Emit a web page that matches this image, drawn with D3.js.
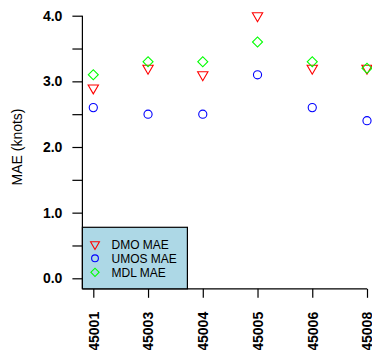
<!DOCTYPE html>
<html>
<head>
<meta charset="utf-8">
<script src="https://cdn.jsdelivr.net/npm/d3@7"></script>
<style>
  body { margin: 0; background: #fff; }
  svg text { font-family: "Liberation Sans", Arial, sans-serif; }
</style>
</head>
<body>
<div id="chart"></div>
<script>
var stations = ["45001", "45003", "45004", "45005", "45006", "45008"];
var dmoMAE  = [2.9, 3.2, 3.1, 4.0, 3.2, 3.2];
var umosMAE = [2.6, 2.5, 2.5, 3.1, 2.6, 2.4];
var mdlMAE  = [3.1, 3.3, 3.3, 3.6, 3.3, 3.2];
var yTicks = [0, 0.5, 1, 1.5, 2, 2.5, 3, 3.5, 4];
var legendLabels = ["DMO MAE", "UMOS MAE", "MDL MAE"];

var width = 372, height = 350;

var svg = d3.select("#chart").append("svg")
    .attr("width", width)
    .attr("height", height);

var x = d3.scalePoint().domain(stations).range([93.3, 367]);
var y = d3.scaleLinear().domain([0, 4]).range([278.3, 15.7]);

var left = 82.4, bottom = 288.8;

// frame lines (left + bottom)
svg.append("line")
    .attr("x1", left).attr("x2", left)
    .attr("y1", y(4)).attr("y2", bottom)
    .style("stroke", "#000").style("stroke-width", 1.2);
svg.append("line")
    .attr("x1", left).attr("x2", x(stations[stations.length - 1]))
    .attr("y1", bottom).attr("y2", bottom)
    .style("stroke", "#000").style("stroke-width", 1.2);

// y axis
var yAxis = svg.append("g")
    .attr("transform", "translate(" + left + ",0)")
    .call(d3.axisLeft(y)
        .tickValues(yTicks)
        .tickSize(10)
        .tickPadding(10)
        .tickFormat(function(d) { return d % 1 === 0 ? d3.format(".1f")(d) : ""; }));
yAxis.select(".domain").remove();
yAxis.selectAll("line").style("stroke", "#000").style("stroke-width", 1.2);
yAxis.selectAll("text")
    .style("font-size", "14px").style("font-weight", "bold")
    .style("font-family", "'Liberation Sans', Arial, sans-serif")
    .attr("fill", "#000");

// x axis
var xAxis = svg.append("g")
    .attr("transform", "translate(0," + bottom + ")")
    .call(d3.axisBottom(x).tickSize(9).tickPadding(0));
xAxis.select(".domain").remove();
xAxis.selectAll("line").style("stroke", "#000").style("stroke-width", 1.2);
xAxis.selectAll("text")
    .style("font-size", "14px").style("font-weight", "bold")
    .style("font-family", "'Liberation Sans', Arial, sans-serif")
    .attr("fill", "#000")
    .attr("text-anchor", "end")
    .attr("transform", "rotate(-90)")
    .attr("x", -23).attr("y", 0).attr("dy", "0.35em");

// y label
svg.append("text")
    .attr("transform", "translate(22," + ((y(4) + y(0)) / 2) + ") rotate(-90)")
    .attr("text-anchor", "middle")
    .style("font-size", "14px")
    .text("MAE (knots)");

var triangle = d3.symbol().type(d3.symbolTriangle).size(46);
var circle = d3.symbol().type(d3.symbolCircle).size(52);
var diamond = d3.symbol().type(d3.symbolSquare).size(50);

// DMO
svg.append("g").selectAll("path")
    .data(dmoMAE)
  .enter().append("path")
    .attr("d", triangle)
    .attr("transform", function(d, i) { return "translate(" + x(stations[i]) + "," + y(d) + ") rotate(180)"; })
    .style("fill", "none").style("stroke", "#ff0000").style("stroke-width", 1.1);

// UMOS
svg.append("g").selectAll("path")
    .data(umosMAE)
  .enter().append("path")
    .attr("d", circle)
    .attr("transform", function(d, i) { return "translate(" + x(stations[i]) + "," + y(d) + ")"; })
    .style("fill", "none").style("stroke", "#0000ff").style("stroke-width", 1.1);

// MDL
svg.append("g").selectAll("path")
    .data(mdlMAE)
  .enter().append("path")
    .attr("d", diamond)
    .attr("transform", function(d, i) { return "translate(" + x(stations[i]) + "," + y(d) + ") rotate(45)"; })
    .style("fill", "none").style("stroke", "#00ff00").style("stroke-width", 1.1);

// legend
var legend = svg.append("g");
legend.append("rect")
    .attr("x", 82.4).attr("y", 227.3)
    .attr("width", 105).attr("height", 61.5)
    .style("fill", "#add8e6").style("stroke", "#000").style("stroke-width", 1.2);

var legendTri = d3.symbol().type(d3.symbolTriangle).size(34);
var legendCirc = d3.symbol().type(d3.symbolCircle).size(36);
var legendDia = d3.symbol().type(d3.symbolSquare).size(34);
var legendSymbols = [
    {sym: legendTri, rot: 180, color: "#ff0000"},
    {sym: legendCirc, rot: 0, color: "#0000ff"},
    {sym: legendDia, rot: 45, color: "#00ff00"}
];
legendLabels.forEach(function(label, i) {
    var ly = 244.3 + i * 14;
    legend.append("path")
        .attr("d", legendSymbols[i].sym)
        .attr("transform", "translate(95," + ly + ") rotate(" + legendSymbols[i].rot + ")")
        .style("fill", "none").style("stroke", legendSymbols[i].color).style("stroke-width", 1.1);
    legend.append("text")
        .attr("x", 111.5).attr("y", ly).attr("dy", "0.35em")
        .style("font-size", "12px")
        .text(label);
});
</script>
</body>
</html>
